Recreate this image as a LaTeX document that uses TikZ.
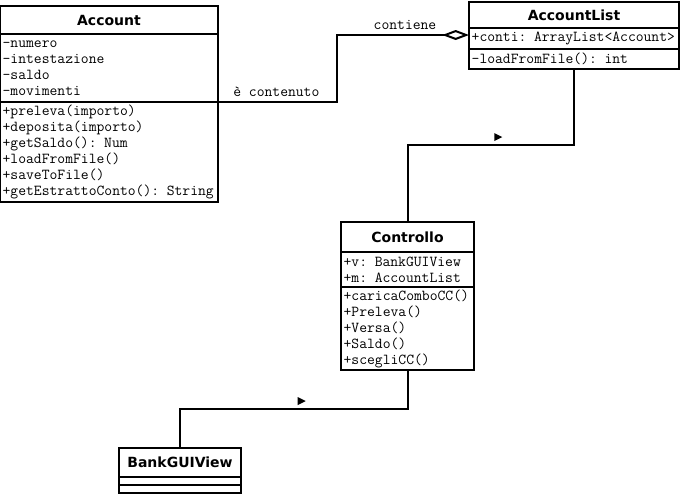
\documentclass[tikz,border=0pt]{standalone}
\usepackage{fontspec}
\newfontfamily\headfont{DejaVu Sans}
\usetikzlibrary{arrows.meta, positioning, shapes.geometric}

\begin{document}
\begin{tikzpicture}[x=0.75pt, y=-0.75pt,
  head/.style={draw, line width=1.5pt, inner sep=0pt, outer sep=0pt, font=\headfont\bfseries\fontsize{10.5}{12}\selectfont},
  part/.style={draw, line width=1.5pt, inner xsep=2pt, inner ysep=0pt, outer sep=0pt, align=left, font=\ttfamily\fontsize{11.4}{12}\selectfont},
  link/.style={line width=1.5pt},
  lbl/.style={font=\ttfamily\fontsize{11.4}{12}\selectfont, inner xsep=0pt, inner ysep=3pt},
  dirmark/.style={isosceles triangle, isosceles triangle stretches, fill, inner sep=0pt, minimum width=6pt, minimum height=6pt}
]
  \useasboundingbox (0,0) rectangle (681,494);

  % Account
  \node[head, anchor=north west, minimum width=163.5pt, minimum height=21pt] (acc) at (0,6) {Account};
  \node[part, below=0pt of acc, text width=159.5pt, minimum height=51pt] (acc-attr) {-numero\\-intestazione\\-saldo\\-movimenti};
  \node[part, below=0pt of acc-attr, text width=159.5pt, minimum height=75pt] (acc-meth) {+preleva(importo)\\+deposita(importo)\\+getSaldo(): Num\\+loadFromFile()\\+saveToFile()\\\mbox{+getEstrattoConto(): String}};

  % AccountList
  \node[head, anchor=north west, minimum width=157.5pt, minimum height=19.5pt] (al) at (469,2) {AccountList};
  \node[part, below=0pt of al, text width=153.5pt, minimum height=15.75pt] (al-attr) {\mbox{+conti: ArrayList<Account>}};
  \node[part, below=0pt of al-attr, text width=153.5pt, minimum height=15pt] (al-meth) {-loadFromFile(): int};

  % Controllo
  \node[head, anchor=north west, minimum width=99.75pt, minimum height=22.5pt] (ctrl) at (341,222) {Controllo};
  \node[part, below=0pt of ctrl, text width=95.75pt, minimum height=26.25pt] (ctrl-attr) {+v: BankGUIView\\+m: AccountList};
  \node[part, below=0pt of ctrl-attr, text width=95.75pt, minimum height=62.25pt] (ctrl-meth) {+caricaComboCC()\\+Preleva()\\+Versa()\\+Saldo()\\+scegliCC()};

  % BankGUIView
  \node[head, anchor=north west, minimum width=91.5pt, minimum height=21.75pt] (bgv) at (119,448) {BankGUIView};
  \node[part, below=0pt of bgv, minimum width=91.5pt, minimum height=6pt] (bgv-attr) {};
  \node[part, below=0pt of bgv-attr, minimum width=91.5pt, minimum height=6pt] (bgv-meth) {};

  % associazioni
  \draw[link, -{Diamond[open, length=20pt, width=7.5pt]}] (acc-attr.south east) -- node[lbl, pos=0.12, anchor=south west] {è contenuto} ++(119,0) |- node[lbl, pos=0.88, anchor=south east] {contiene} ([yshift=-5.25pt]al-attr.north west);
  \draw[link] (al-meth.south) -- ++(0,76) -| node[dirmark, pos=0.232, above=3pt] {} (ctrl.north);
  \draw[link] (ctrl-meth.south) -- ++(0,39) -| node[dirmark, pos=0.236, above=3pt] {} (bgv.north);
\end{tikzpicture}
\end{document}
